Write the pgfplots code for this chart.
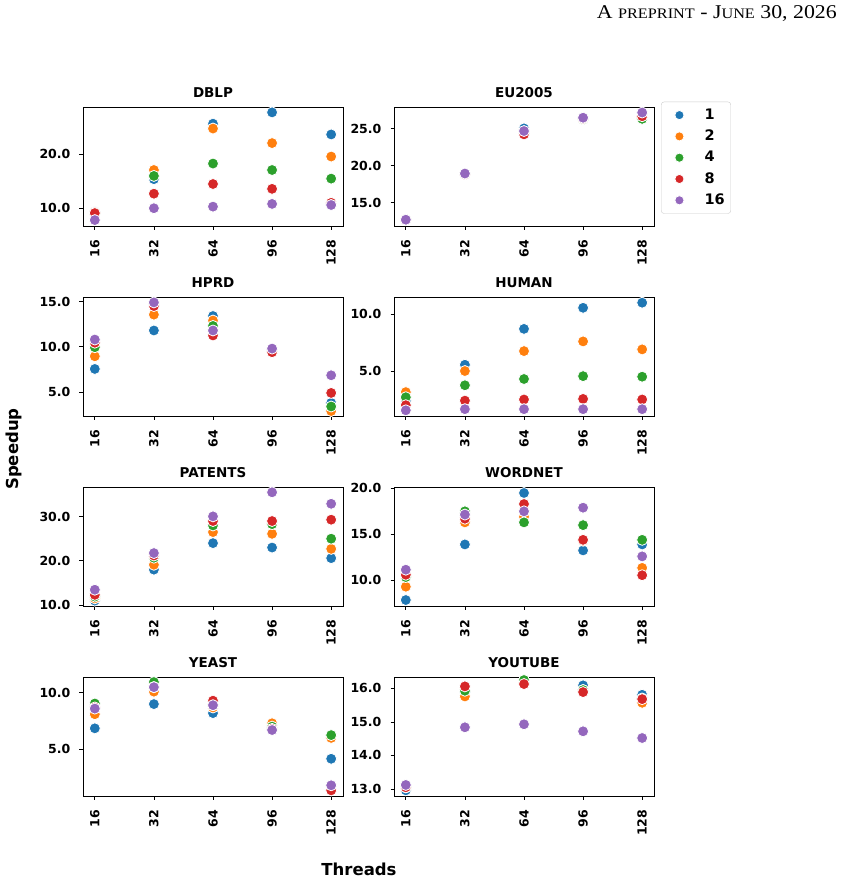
\documentclass[border=0pt]{standalone}
\usepackage{fontspec}
\setmainfont{DejaVu Sans}
\newfontfamily\hdr{Liberation Serif}
\usepackage{pgfplots}
\usepackage{pgfplotstable}
\pgfplotsset{compat=1.18}
\definecolor{c1}{HTML}{1F77B4}
\definecolor{c2}{HTML}{FF7F0E}
\definecolor{c4}{HTML}{2CA02C}
\definecolor{c8}{HTML}{D62728}
\definecolor{c16}{HTML}{9467BD}

\pgfplotstableread{
x s1 s2 s4 s8 s16
0 9.3 9.2 9.0 9.1 7.8
1 15.4 17.1 16.0 12.7 10.0
2 25.7 24.8 18.3 14.5 10.3
3 27.8 22.1 17.1 13.6 10.8
4 23.7 19.6 15.5 11.0 10.6
}\dblp
\pgfplotstableread{
x s1 s2 s4 s8 s16
0 12.7 12.7 12.7 12.7 12.7
1 18.9 18.9 18.9 18.85 18.95
2 25.05 24.5 24.5 24.25 24.7
3 26.4 26.3 26.3 26.4 26.5
4 26.6 26.6 26.35 26.7 27.2
}\eu
\pgfplotstableread{
x s1 s2 s4 s8 s16
0 7.55 8.95 9.95 10.45 10.8
1 11.8 13.55 14.6 14.5 14.9
2 13.4 12.9 12.3 11.25 11.8
3 9.6 9.6 9.6 9.4 9.8
4 3.8 2.9 3.4 4.9 6.85
}\hprd
\pgfplotstableread{
x s1 s2 s4 s8 s16
0 2.4 3.15 2.7 2.0 1.55
1 5.55 5.0 3.75 2.4 1.65
2 8.7 6.75 4.3 2.5 1.65
3 10.55 7.6 4.55 2.55 1.65
4 11.0 6.9 4.5 2.5 1.65
}\human
\pgfplotstableread{
x s1 s2 s4 s8 s16
0 11.0 11.5 11.9 12.3 13.45
1 18.0 19.1 20.7 21.2 21.75
2 24.0 26.5 28.0 29.0 30.05
3 23.0 26.1 28.3 29.0 35.5
4 20.6 22.7 25.0 29.3 32.9
}\patents
\pgfplotstableread{
x s1 s2 s4 s8 s16
0 7.85 9.3 10.35 10.6 11.15
1 13.9 16.3 17.5 16.7 17.15
2 19.5 16.9 16.3 18.3 17.5
3 13.25 14.3 16.0 14.4 17.9
4 13.9 11.35 14.4 10.55 12.6
}\wordnet
\pgfplotstableread{
x s1 s2 s4 s8 s16
0 6.85 8.1 9.05 8.7 8.6
1 9.0 10.1 10.95 10.5 10.5
2 8.2 8.7 8.9 9.3 8.9
3 6.8 7.3 7.0 6.8 6.7
4 4.15 6.0 6.25 1.35 1.8
}\yeast
\pgfplotstableread{
x s1 s2 s4 s8 s16
0 12.96 13.05 13.05 13.05 13.12
1 15.9 15.76 15.93 16.06 14.84
2 16.15 16.15 16.25 16.13 14.93
3 16.09 15.95 15.95 15.89 14.72
4 15.81 15.57 15.7 15.68 14.52
}\youtube

\pgfplotsset{
  sub/.style={
    scale only axis, width=260pt, height=119pt, anchor=north west,
    xmin=-0.2, xmax=4.2, xtick={0,1,2,3,4}, xticklabels={16,32,64,96,128},
    x tick label style={rotate=90, anchor=east, outer xsep=6.8pt},
    y tick label style={anchor=east, outer xsep=5.8pt},
    tick align=outside, tick pos=left, major tick length=3.5pt,
    tick style={black, line width=0.8pt},
    axis line style={line width=0.8pt},
    /pgf/number format/assume math mode=true,
    ticklabel style={font=\bfseries\fontsize{12.5}{12.5}\selectfont},
    yticklabel style={/pgf/number format/fixed, /pgf/number format/fixed zerofill, /pgf/number format/precision=1},
    title style={font=\bfseries\fontsize{13.5}{13.5}\selectfont, yshift=0pt},
    clip=false,
  },
  s/.style={only marks, mark=*, mark size=5.5pt, color=#1, mark options={draw=white, fill=#1, line width=0.8pt}},
}
\newcommand{\series}[1]{%
  \addplot[s=c1] table[x=x,y=s1]{#1};
  \addplot[s=c2] table[x=x,y=s2]{#1};
  \addplot[s=c4] table[x=x,y=s4]{#1};
  \addplot[s=c8] table[x=x,y=s8]{#1};
  \addplot[s=c16] table[x=x,y=s16]{#1};
}

\begin{document}
\begin{tikzpicture}
\path[use as bounding box] (-83pt,107pt) rectangle (760pt,-776pt);

\begin{axis}[sub, at={(0pt,0pt)}, title={DBLP}, ymin=6.7, ymax=28.8, ytick={10,20}]
\series{\dblp}
\end{axis}
\begin{axis}[sub, at={(311pt,0pt)}, title={EU2005}, ymin=11.85, ymax=27.95, ytick={15,20,25},
  legend style={at={(1.027,1.045)}, anchor=north west, draw=black!20, rounded corners=3pt,
    font=\bfseries\fontsize{14.5}{14.5}\selectfont, row sep=4.8pt, inner ysep=5pt, inner xsep=4pt,
    nodes={inner sep=2pt, text height=10.5pt, text depth=2pt}},
  legend cell align=left,
  legend image code/.code={\path (0pt,0pt) (37pt,0pt); \draw[#1, mark size=4.6pt] plot coordinates {(14pt,0pt)};}]
\series{\eu}
\legend{1,2,4,8,16}
\end{axis}

\begin{axis}[sub, at={(0pt,-190pt)}, title={HPRD}, ymin=2.35, ymax=15.5, ytick={5,10,15}]
\series{\hprd}
\end{axis}
\begin{axis}[sub, at={(311pt,-190pt)}, title={HUMAN}, ymin=1.05, ymax=11.5, ytick={5,10}]
\series{\human}
\end{axis}

\begin{axis}[sub, at={(0pt,-380pt)}, title={PATENTS}, ymin=9.77, ymax=36.7, ytick={10,20,30}]
\series{\patents}
\end{axis}
\begin{axis}[sub, at={(311pt,-380pt)}, title={WORDNET}, ymin=7.2, ymax=20.15, ytick={10,15,20}]
\series{\wordnet}
\end{axis}

\begin{axis}[sub, at={(0pt,-570pt)}, title={YEAST}, ymin=0.85, ymax=11.4, ytick={5,10}]
\series{\yeast}
\end{axis}
\begin{axis}[sub, at={(311pt,-570pt)}, title={YOUTUBE}, ymin=12.79, ymax=16.34, ytick={13,14,15,16}]
\series{\youtube}
\end{axis}

\node[rotate=90, font=\bfseries\fontsize{16.5}{16.5}\selectfont] at (-69pt,-342pt) {Speedup};
\node[font=\bfseries\fontsize{16.5}{16.5}\selectfont] at (276pt,-762pt) {Threads};
\node[anchor=base east, inner sep=0pt, font=\hdr] at (754pt,88pt)
  {\scalebox{1.12}[1]{\fontsize{19.5}{19.5}\selectfont A {\fontsize{14.5}{14.5}\selectfont PREPRINT} - J{\fontsize{14.5}{14.5}\selectfont UNE} 30, 2026}};
\end{tikzpicture}
\end{document}
